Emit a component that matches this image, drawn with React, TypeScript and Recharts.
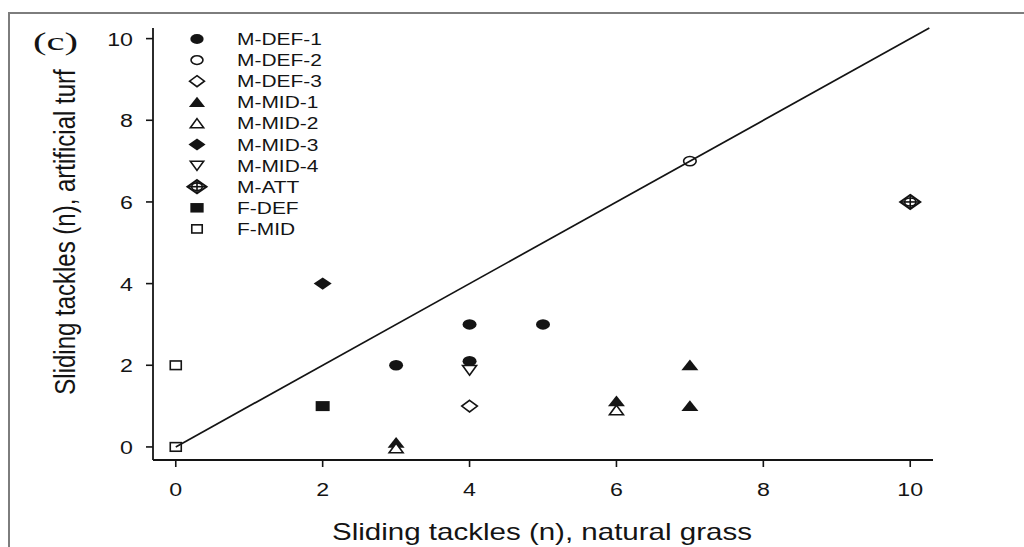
import React from "react";
import { ScatterChart, Scatter, XAxis, YAxis, ReferenceLine } from "recharts";

// one x / y list per player group
const mDef1X = [3, 4, 4, 5];
const mDef1Y = [2, 3, 2.1, 3];
const mDef2X = [7];
const mDef2Y = [7];
const mDef3X = [4];
const mDef3Y = [1];
const mMid1X = [3, 6, 7, 7];
const mMid1Y = [0.1, 1.12, 2, 1];
const mMid2X = [3, 6];
const mMid2Y = [-0.03, 0.9];
const mMid3X = [2];
const mMid3Y = [4];
const mMid4X = [4];
const mMid4Y = [1.88];
const mAttX = [10];
const mAttY = [6];
const fDefX = [2];
const fDefY = [1];
const fMidX = [0, 0];
const fMidY = [2, 0];

const groupNames = ["M-DEF-1", "M-DEF-2", "M-DEF-3", "M-MID-1", "M-MID-2", "M-MID-3", "M-MID-4", "M-ATT", "F-DEF", "F-MID"];

const xTicks = [0, 2, 4, 6, 8, 10];
const yTicks = [0, 2, 4, 6, 8, 10];
const identityEnds = [0, 10.26];

const FONT = "'Liberation Sans', Arial, Helvetica, sans-serif";
const INK = "#141414";

type Kind =
  | "dot" | "ring" | "diamondOpen" | "triUp" | "triUpOpen"
  | "diamond" | "triDownOpen" | "att" | "square" | "squareOpen";

const kinds: Kind[] = ["dot", "ring", "diamondOpen", "triUp", "triUpOpen", "diamond", "triDownOpen", "att", "square", "squareOpen"];

const toPoints = (xs: number[], ys: number[]) => xs.map((x, i) => ({ x, y: ys[i] }));

const groups = [
  toPoints(mDef1X, mDef1Y),
  toPoints(mDef2X, mDef2Y),
  toPoints(mDef3X, mDef3Y),
  toPoints(mMid1X, mMid1Y),
  toPoints(mMid2X, mMid2Y),
  toPoints(mMid3X, mMid3Y),
  toPoints(mMid4X, mMid4Y),
  toPoints(mAttX, mAttY),
  toPoints(fDefX, fDefY),
  toPoints(fMidX, fMidY),
];

function Marker({ kind, cx, cy, s = 1 }: { kind: Kind; cx: number; cy: number; s?: number }) {
  const sw = 1.6;
  const poly = (pts: number[][]) => pts.map((p) => `${cx + p[0] * s},${cy + p[1] * s}`).join(" ");
  switch (kind) {
    case "dot":
      return <ellipse cx={cx} cy={cy} rx={7 * s} ry={5.2 * s} fill={INK} />;
    case "ring":
      return <ellipse cx={cx} cy={cy} rx={6.3 * s} ry={4.6 * s} fill="none" stroke={INK} strokeWidth={sw} />;
    case "diamondOpen":
      return <polygon points={poly([[0, -5.8], [7.8, 0], [0, 5.8], [-7.8, 0]])} fill="#fff" stroke={INK} strokeWidth={sw} />;
    case "diamond":
      return <polygon points={poly([[0, -6.2], [9, 0], [0, 6.2], [-9, 0]])} fill={INK} />;
    case "triUp":
      return <polygon points={poly([[0, -5.8], [8.5, 5], [-8.5, 5]])} fill={INK} />;
    case "triUpOpen":
      return <polygon points={poly([[0, -5], [7, 4.6], [-7, 4.6]])} fill="#fff" stroke={INK} strokeWidth={sw} />;
    case "triDownOpen":
      return <polygon points={poly([[0, 5], [7, -4.6], [-7, -4.6]])} fill="#fff" stroke={INK} strokeWidth={sw} />;
    case "square":
      return <rect x={cx - 7 * s} y={cy - 5 * s} width={14 * s} height={10 * s} fill={INK} />;
    case "squareOpen":
      return <rect x={cx - 5.5 * s} y={cy - 4.3 * s} width={11 * s} height={8.6 * s} fill="none" stroke={INK} strokeWidth={sw} />;
    case "att":
      return (
        <g>
          <polygon points={poly([[0, -7], [10, 0], [0, 7], [-10, 0]])} fill="#fff" stroke={INK} strokeWidth={2} />
          <ellipse cx={cx} cy={cy} rx={5.6 * s} ry={4 * s} fill="none" stroke={INK} strokeWidth={1.6} />
          <line x1={cx - 10 * s} y1={cy} x2={cx + 10 * s} y2={cy} stroke={INK} strokeWidth={1.6} />
          <line x1={cx} y1={cy - 7 * s} x2={cx} y2={cy + 7 * s} stroke={INK} strokeWidth={1.6} />
        </g>
      );
  }
  return null;
}

function XTick(props: any) {
  const { x, y, payload } = props;
  return (
    <text transform={`translate(${x},${y + 27}) scale(1.22,1)`} textAnchor="middle" fontSize={19} fill={INK} fontFamily={FONT}>
      {payload.value}
    </text>
  );
}

function YTick(props: any) {
  const { x, y, payload } = props;
  return (
    <text transform={`translate(${x - 11},${y + 7}) scale(1.22,1)`} textAnchor="end" fontSize={19} fill={INK} fontFamily={FONT}>
      {payload.value}
    </text>
  );
}

function Overlay() {
  return (
    <svg width={1024} height={547} style={{ position: "absolute", left: 0, top: 0, pointerEvents: "none" }}>
      <text x={33} y={50} fontSize={25} fontFamily="'Liberation Serif', 'Times New Roman', serif" fill={INK} textLength={45} lengthAdjust="spacingAndGlyphs">
        (c)
      </text>
      {groupNames.map((name, i) => {
        const cy = 39 + 21.1 * i;
        return (
          <g key={name}>
            <Marker kind={kinds[i]} cx={197} cy={cy} s={0.95} />
            <text transform={`translate(237,${cy + 6}) scale(1.27,1)`} fontSize={16.5} fontFamily={FONT} fill={INK}>
              {name}
            </text>
          </g>
        );
      })}
      <text transform="translate(542,540) scale(1.23,1)" textAnchor="middle" fontSize={24} fontFamily={FONT} fill={INK}>
        Sliding tackles (n), natural grass
      </text>
      <text transform="translate(75,232) scale(1.2,1) rotate(-90)" textAnchor="middle" fontSize={24} fontFamily={FONT} fill={INK}>
        Sliding tackles (n), artificial turf
      </text>
    </svg>
  );
}

export default function App() {
  return (
    <div style={{ position: "absolute", left: 0, top: 0, width: 1024, height: 547, background: "#fff", overflow: "hidden" }}>
      <div
        style={{
          position: "absolute", left: 8, top: 12, width: 1016, height: 535,
          borderLeft: "2px solid #7d7d7d", borderTop: "2px solid #7d7d7d", boxSizing: "border-box",
        }}
      />
      <div style={{ position: "absolute", left: 0, top: 0 }}>
        <ScatterChart width={1024} height={547} margin={{ top: 28, right: 91, bottom: 47, left: 93 }}>
          <XAxis
            type="number" dataKey="x" domain={[-0.31, 10.31]} ticks={xTicks} allowDataOverflow
            height={40} tickSize={7} tick={(p: any) => <XTick {...p} />}
            axisLine={{ stroke: INK, strokeWidth: 1.8 }} tickLine={{ stroke: INK, strokeWidth: 1.6 }}
          />
          <YAxis
            type="number" dataKey="y" domain={[-0.32, 10.26]} ticks={yTicks} allowDataOverflow
            width={60} tickSize={7} tick={(p: any) => <YTick {...p} />}
            axisLine={{ stroke: INK, strokeWidth: 1.8 }} tickLine={{ stroke: INK, strokeWidth: 1.6 }}
          />
          {groups.map((pts, i) => (
            <Scatter
              key={groupNames[i]} name={groupNames[i]} data={pts} isAnimationActive={false}
              shape={(p: any) => <Marker kind={kinds[i]} cx={p.cx} cy={p.cy} />}
            />
          ))}
          <ReferenceLine
            segment={[{ x: identityEnds[0], y: identityEnds[0] }, { x: identityEnds[1], y: identityEnds[1] }]}
            stroke={INK} strokeWidth={1.7} ifOverflow="visible"
          />
        </ScatterChart>
      </div>
      <Overlay />
    </div>
  );
}
